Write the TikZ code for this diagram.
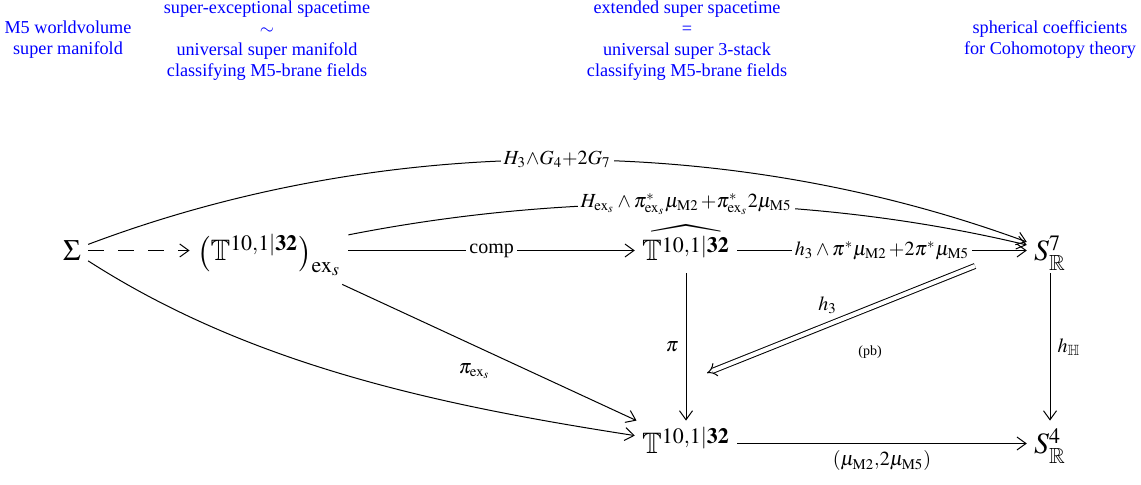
\documentclass[tikz,border=0pt]{standalone}
\usepackage{mathptmx}
\usepackage{amssymb}
\usepackage[no-math]{fontspec}
\setmainfont{Liberation Serif}
\usetikzlibrary{arrows.meta}
\begin{document}
\begin{tikzpicture}[x=0.5pt,y=-0.5pt,
  obj/.style={font=\fontsize{14.8}{17}\selectfont, inner sep=3.5pt, anchor=base, text height=13pt, text depth=2.5pt},
  lab/.style={font=\fontsize{10}{12}\selectfont, inner sep=1.5pt},
  onlab/.style={lab, fill=white},
  blu/.style={text=blue, font=\fontsize{9.1}{10.5}\selectfont, align=center},
  arr/.style={-{Straight Barb[length=4.5pt,width=6.5pt]}, line width=0.5pt},
  dbl/.style={double, double distance=2pt, line width=0.5pt, -{Implies}},
  dsh/.style={dash pattern=on 8pt off 7pt},
]
\useasboundingbox (0,0) rectangle (1141,485);

% blue annotations
\node[blu] (c1) at (68,40) {M5 worldvolume\\super manifold};
\node[blu] (c2) at (267,41) {super-exceptional spacetime\\$\sim$\\universal super manifold\\classifying M5-brane fields};
\node[blu] (c3) at (687,41) {extended super spacetime\\=\\universal super 3-stack\\classifying M5-brane fields};
\node[blu] (c4) at (1050,40) {spherical coefficients\\for Cohomotopy theory};

% objects
\node[obj] (Sigma) at (72,261) {$\Sigma$};
\node[obj, text height=18.5pt, text depth=8pt] (Tex) at (269,261) {$\big(\mathbb{T}^{10,1\vert\mathbf{32}}\big)_{\mathrm{ex}_s}$};
\node[obj] (Th) at (686,261) {$\widehat{\mathbb{T}^{10,1\vert\mathbf{32}}}$};
\node[obj] (S7) at (1050,261) {$S^7_{\mathbb{R}}$};
\node[obj] (T) at (686,454) {$\mathbb{T}^{10,1\vert\mathbf{32}}$};
\node[obj] (S4) at (1050,454) {$S^4_{\mathbb{R}}$};

% arrows
\draw[arr] (Sigma) .. controls (386,132) and (728,132) .. node[onlab, pos=0.5] (l1) {$H_3{\wedge}G_4{+}2G_7$} (S7);
\draw[arr] (Tex) .. controls (566,192) and (805,192) .. node[onlab, pos=0.5] (l2) {$H_{\mathrm{ex}_s}\wedge\pi^\ast_{\mathrm{ex}_s}\mu_{\mathrm{M2}}\,{+}\pi^\ast_{\mathrm{ex}_s}2\mu_{\mathrm{M5}}$} (S7);
\draw[arr, dsh] (Sigma) -- (Tex);
\draw[arr] (Tex) -- node[onlab] (l3) {comp} (Th);
\draw[arr] (Th) -- node[onlab] (l4) {$h_3\wedge\pi^\ast\mu_{\mathrm{M2}}\,{+}2\pi^\ast\mu_{\mathrm{M5}}$} (S7);
\draw[arr] (Tex) -- node[lab, pos=0.45, below=7pt] (l5) {$\pi_{\mathrm{ex}_s}$} (T);
\draw[arr] (Sigma) .. controls (250,365) and (437,405) .. (T);
\draw[arr] (Th) -- node[lab, left=2pt] (l6) {$\pi$} (T);
\draw[arr] (S7) -- node[lab, right=2pt] (l7) {$h_{\mathbb{H}}$} (S4);
\draw[arr] (T) -- node[lab, below=2pt] (l8) {$(\mu_{\mathrm{M2}}{,}2\mu_{\mathrm{M5}})$} (S4);

% 2-cell
\coordinate (h3a) at (975,266);
\coordinate (h3b) at (707,373);
\draw[dbl] (h3a) -- node[lab, pos=0.55, above=4pt] (l9) {$h_3$} (h3b);
\node[font=\fontsize{7}{8}\selectfont] (pb) at (870,352) {(pb)};
\end{tikzpicture}
\end{document}
